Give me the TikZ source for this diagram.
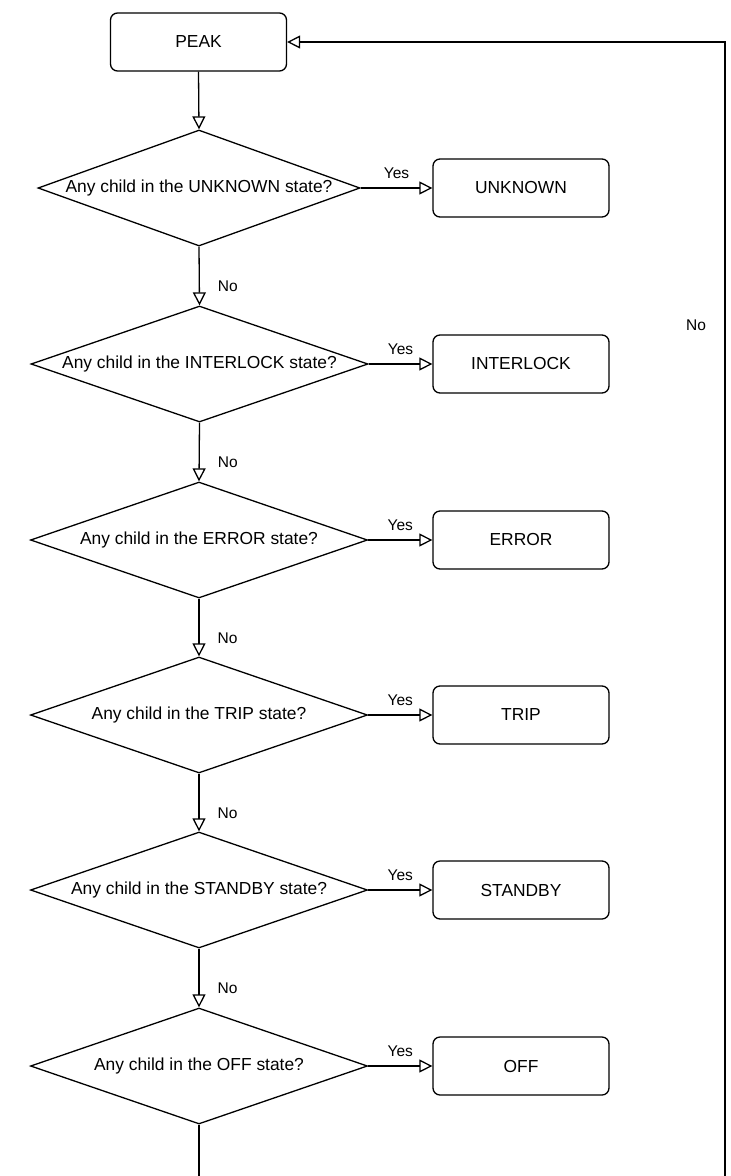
\documentclass[tikz,border=0pt]{standalone}
\usepackage{fontspec}
\setmainfont{Liberation Sans}
\usetikzlibrary{shapes.geometric,arrows.meta}
\newcommand{\mainsz}{\fontsize{17.4bp}{20bp}\selectfont}
\newcommand{\lblsz}{\fontsize{15.5bp}{18bp}\selectfont}
\begin{document}
\begin{tikzpicture}[x=1bp,y=-1bp,line width=1.3bp,
  statebox/.style={draw,rounded corners=7bp,minimum width=176bp,minimum height=58bp,inner sep=0,font=\mainsz},
  decision/.style={draw,diamond,inner sep=0,minimum width=337bp,minimum height=116bp,font=\mainsz},
  flow/.style={-{Triangle[open,length=13bp,width=13bp]}},
  lbl/.style={font=\lblsz,inner sep=0},
  yeslbl/.style={lbl,midway,yshift=15bp},
  nolbl/.style={lbl,pos=0.68,anchor=west,xshift=18bp}]
\useasboundingbox (0,0) rectangle (731,1176);
\clip (0,0) rectangle (731,1176);

% start state
\node[statebox] (peak) at (198.5,42) {PEAK};

% decision chain
\node[decision,minimum width=322bp] (d1) at (199,188) {\makebox[0pt]{Any child in the UNKNOWN state?}};
\node[decision] (d2) at (199.5,364) {\makebox[0pt]{Any child in the INTERLOCK state?}};
\node[decision] (d3) at (199,540) {\makebox[0pt]{Any child in the ERROR state?}};
\node[decision] (d4) at (199,715) {\makebox[0pt]{Any child in the TRIP state?}};
\node[decision] (d5) at (199,890) {\makebox[0pt]{Any child in the STANDBY state?}};
\node[decision] (d6) at (199,1066) {\makebox[0pt]{Any child in the OFF state?}};

% resulting states
\node[statebox] (s1) at (521,188) {UNKNOWN};
\node[statebox] (s2) at (521,364) {INTERLOCK};
\node[statebox] (s3) at (521,540) {ERROR};
\node[statebox] (s4) at (521,715) {TRIP};
\node[statebox] (s5) at (521,890) {STANDBY};
\node[statebox] (s6) at (521,1066) {OFF};

% vertical flow
\draw[flow] (peak.south) -- (d1.north);
\draw[flow] (d1.south) -- node[nolbl] {No} (d2.north);
\draw[flow] (d2.south) -- node[nolbl] {No} (d3.north);
\draw[flow] (d3.south) -- node[nolbl] {No} (d4.north);
\draw[flow] (d4.south) -- node[nolbl] {No} (d5.north);
\draw[flow] (d5.south) -- node[nolbl] {No} (d6.north);

% yes branches
\draw[flow] (d1.east) -- node[yeslbl] {Yes} (s1.west);
\draw[flow] (d2.east) -- node[yeslbl] {Yes} (s2.west);
\draw[flow] (d3.east) -- node[yeslbl] {Yes} (s3.west);
\draw[flow] (d4.east) -- node[yeslbl] {Yes} (s4.west);
\draw[flow] (d5.east) -- node[yeslbl] {Yes} (s5.west);
\draw[flow] (d6.east) -- node[yeslbl] {Yes} (s6.west);

% loop back to the start state
\coordinate (lb) at (199,1200);
\coordinate (rb) at (725,1200);
\coordinate (rt) at (725,42);
\draw[flow] (d6.south) -- (lb) -- (rb) -- (rt) -- (peak.east);
\node[lbl] (noloop) at (696,325) {No};
\end{tikzpicture}
\end{document}
